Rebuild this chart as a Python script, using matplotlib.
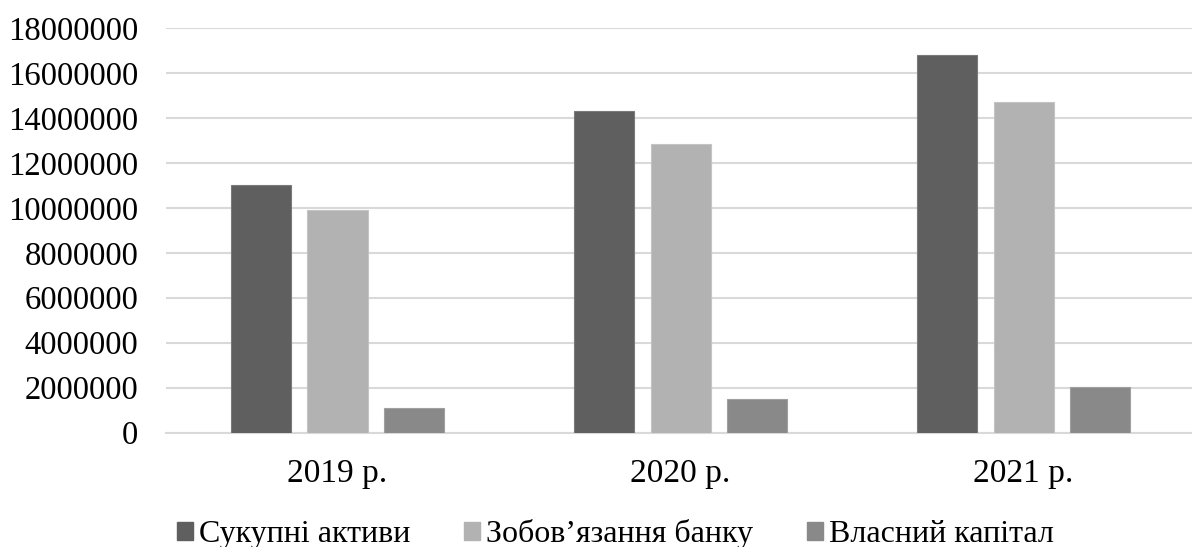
import matplotlib
matplotlib.use("Agg")
import matplotlib.pyplot as plt
from matplotlib.patches import Patch
import numpy as np

categories = ["2019 р.", "2020 р.", "2021 р."]
series_names = ["Сукупні активи", "Зобов’язання банку", "Власний капітал"]
total_assets = [11000000, 14300000, 16780000]
liabilities = [9900000, 12820000, 14720000]
equity = [1090000, 1510000, 2030000]
yticks = [0, 2000000, 4000000, 6000000, 8000000, 10000000,
          12000000, 14000000, 16000000, 18000000]
colors = ["#5f5f5f", "#b2b2b2", "#898989"]
edge_colors = ["#7a7a7a", "#c4c4c4", "#a0a0a0"]

plt.rcParams['font.family'] = ['Liberation Serif', 'DejaVu Serif']

fig = plt.figure(figsize=(11.92, 5.47), dpi=100)
ax = fig.add_axes([166/1192, 1-432.6/547, 1-166/1192, (432.6-28)/547])

x = np.arange(len(categories))
width = 0.175
step = 0.222
for i, (vals, c, ec) in enumerate(zip([total_assets, liabilities, equity], colors, edge_colors)):
    ax.bar(x + (i-1)*step, vals, width, color=c, edgecolor=ec, linewidth=0.8, zorder=3)

ax.set_xlim(-0.5, 2.491)
ax.set_ylim(0, 18000000)
ax.set_yticks(yticks)
ax.set_yticklabels([str(v) for v in yticks], fontsize=23.5)
ax.set_xticks(x)
ax.set_xticklabels(categories, fontsize=24)
ax.tick_params(axis='y', length=0, pad=20)
ax.tick_params(axis='x', length=0, pad=19)
ax.grid(axis='y', color='#d9d9d9', linewidth=1.5, zorder=0)
for s in ['top', 'right', 'left']:
    ax.spines[s].set_visible(False)
ax.spines['bottom'].set_color('#d9d9d9')
ax.spines['bottom'].set_linewidth(1.5)

handles = [Patch(facecolor=c, edgecolor=c) for c in colors]
fig.legend(handles, series_names, loc='center left', bbox_to_anchor=(177/1192, 1-534/547),
           ncol=3, frameon=False, fontsize=23, handlelength=0.5, handleheight=0.5,
           handletextpad=0.2, columnspacing=1.67, borderpad=0, borderaxespad=0)

fig.savefig("out.png", dpi=100)
